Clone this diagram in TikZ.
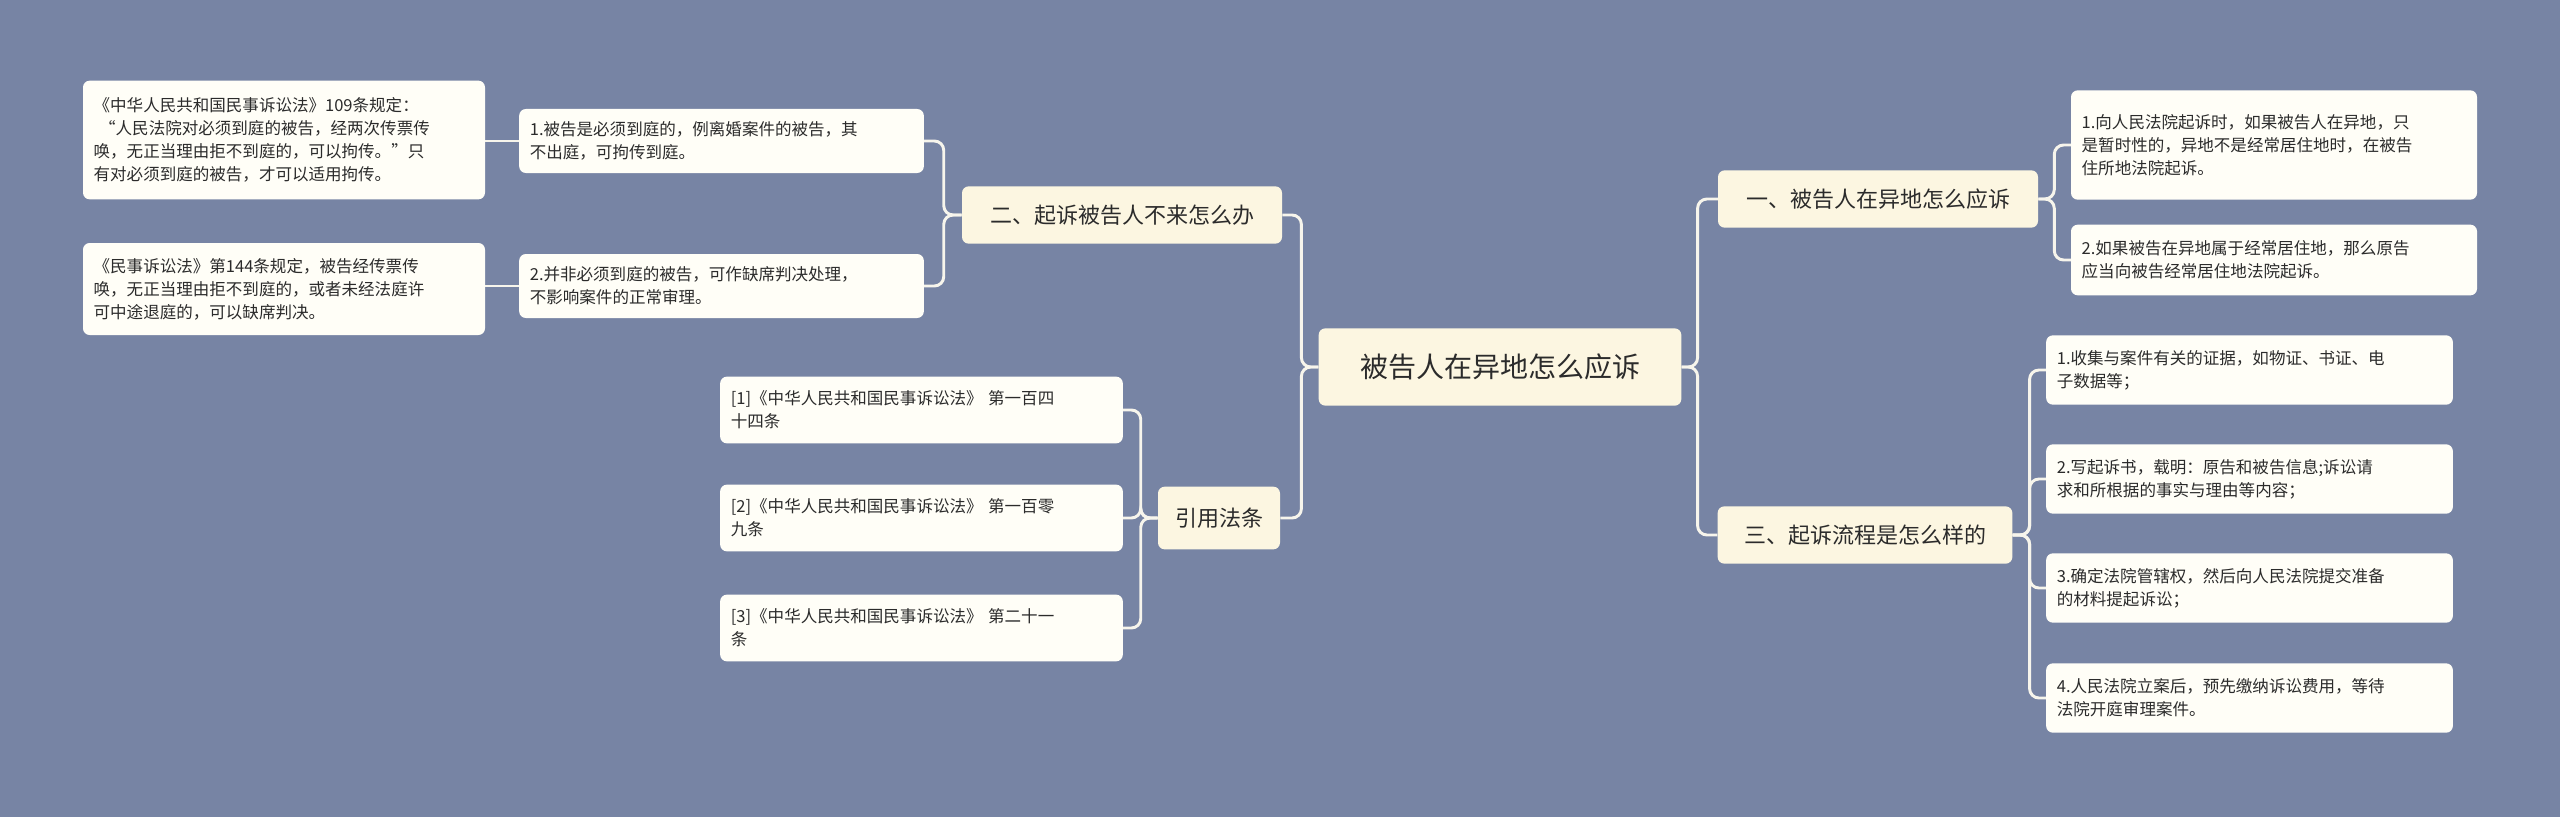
\documentclass[tikz,border=0pt]{standalone}
\usepackage{fontspec}
\setmainfont{Noto Sans CJK SC}
\definecolor{bg}{HTML}{7784A4}
\definecolor{lvl}{HTML}{FCF6E1}
\definecolor{leaf}{HTML}{FFFEF7}
\definecolor{ink}{HTML}{2B2B2B}
\definecolor{conn}{HTML}{F7F5EC}
\tikzset{
  rootbox/.style={fill=lvl,rounded corners=5pt,text=ink,minimum width=272pt,minimum height=58pt,font=\fontsize{21}{25}\selectfont},
  midbox/.style={fill=lvl,rounded corners=5pt,text=ink,minimum height=43pt,font=\fontsize{16.5}{20}\selectfont},
  leafbox/.style={fill=leaf,rounded corners=5pt,text=ink,align=left,inner xsep=8pt,inner ysep=5pt,font=\fontsize{12.4}{17.2}\selectfont},
  link/.style={draw=conn,line width=2.2pt,rounded corners=7pt},
}
\begin{document}
\begin{tikzpicture}[x=0.75pt,y=-0.75pt]
\fill[bg] (0,0) rectangle (2560,817);
\useasboundingbox (0,0) rectangle (2560,817);
\node[rootbox] (root) at (1500,367) {被告人在异地怎么应诉};
% right side
\node[midbox,minimum width=240pt] (r1) at (1878,199) {一、被告人在异地怎么应诉};
\node[leafbox,text width=288.5pt,minimum height=82pt] (r1a) at (2274,145) {1.向人民法院起诉时，如果被告人在异地，只\\是暂时性的，异地不是经常居住地时，在被告\\住所地法院起诉。};
\node[leafbox,text width=288.5pt,minimum height=53pt] (r1b) at (2274,260) {2.如果被告在异地属于经常居住地，那么原告\\应当向被告经常居住地法院起诉。};
\node[midbox,minimum width=221pt] (r3) at (1865,535) {三、起诉流程是怎么样的};
\node[leafbox,text width=289pt,minimum height=52pt] (r3a) at (2249.5,370) {1.收集与案件有关的证据，如物证、书证、电\\子数据等；};
\node[leafbox,text width=289pt,minimum height=52pt] (r3b) at (2249.5,479) {2.写起诉书，载明：原告和被告信息;诉讼请\\求和所根据的事实与理由等内容；};
\node[leafbox,text width=289pt,minimum height=52pt] (r3c) at (2249.5,588) {3.确定法院管辖权，然后向人民法院提交准备\\的材料提起诉讼；};
\node[leafbox,text width=289pt,minimum height=52pt] (r3d) at (2249.5,698) {4.人民法院立案后，预先缴纳诉讼费用，等待\\法院开庭审理案件。};
% left side
\node[midbox,minimum width=240pt] (l2) at (1122,215) {二、起诉被告人不来怎么办};
\node[leafbox,text width=287.5pt,minimum height=48pt] (l2a) at (721.5,141) {1.被告是必须到庭的，例离婚案件的被告，其\\不出庭，可拘传到庭。};
\node[leafbox,text width=287.5pt,minimum height=48pt] (l2b) at (721.5,286) {2.并非必须到庭的被告，可作缺席判决处理，\\不影响案件的正常审理。};
\node[leafbox,text width=285.5pt,minimum height=89pt] (g1) at (284,140) {《中华人民共和国民事诉讼法》109条规定：\\\ “人民法院对必须到庭的被告，经两次传票传\\唤，无正当理由拒不到庭的，可以拘传。”只\\有对必须到庭的被告，才可以适用拘传。};
\node[leafbox,text width=285.5pt,minimum height=69pt] (g2) at (284,289) {《民事诉讼法》第144条规定，被告经传票传\\唤，无正当理由拒不到庭的，或者未经法庭许\\可中途退庭的，可以缺席判决。};
\node[midbox,minimum width=91.5pt,minimum height=47pt] (yin) at (1219,518) {引用法条};
\node[leafbox,text width=286pt,minimum height=50pt] (y1) at (921.5,410) {[1]《中华人民共和国民事诉讼法》 第一百四\\十四条};
\node[leafbox,text width=286pt,minimum height=50pt] (y2) at (921.5,518) {[2]《中华人民共和国民事诉讼法》 第一百零\\九条};
\node[leafbox,text width=286pt,minimum height=50pt] (y3) at (921.5,628) {[3]《中华人民共和国民事诉讼法》 第二十一\\条};
% connectors
\foreach \c in {r1,r3} \draw[link] (root.east) -- ++(16,0) |- (\c.west);
\foreach \c in {l2,yin} \draw[link] (root.west) -- ++(-17,0) |- (\c.east);
\foreach \c in {r1a,r1b} \draw[link] (r1.east) -- ++(16,0) |- (\c.west);
\foreach \c in {r3a,r3b,r3c,r3d} \draw[link] (r3.east) -- ++(17,0) |- (\c.west);
\foreach \c in {l2a,l2b} \draw[link] (l2.west) -- ++(-18,0) |- (\c.east);
\foreach \c in {y1,y2,y3} \draw[link] (yin.west) -- ++(-17,0) |- (\c.east);
\draw[link] (l2a.west) -- (l2a.west -| g1.east);
\draw[link] (l2b.west) -- (l2b.west -| g2.east);
\end{tikzpicture}
\end{document}
